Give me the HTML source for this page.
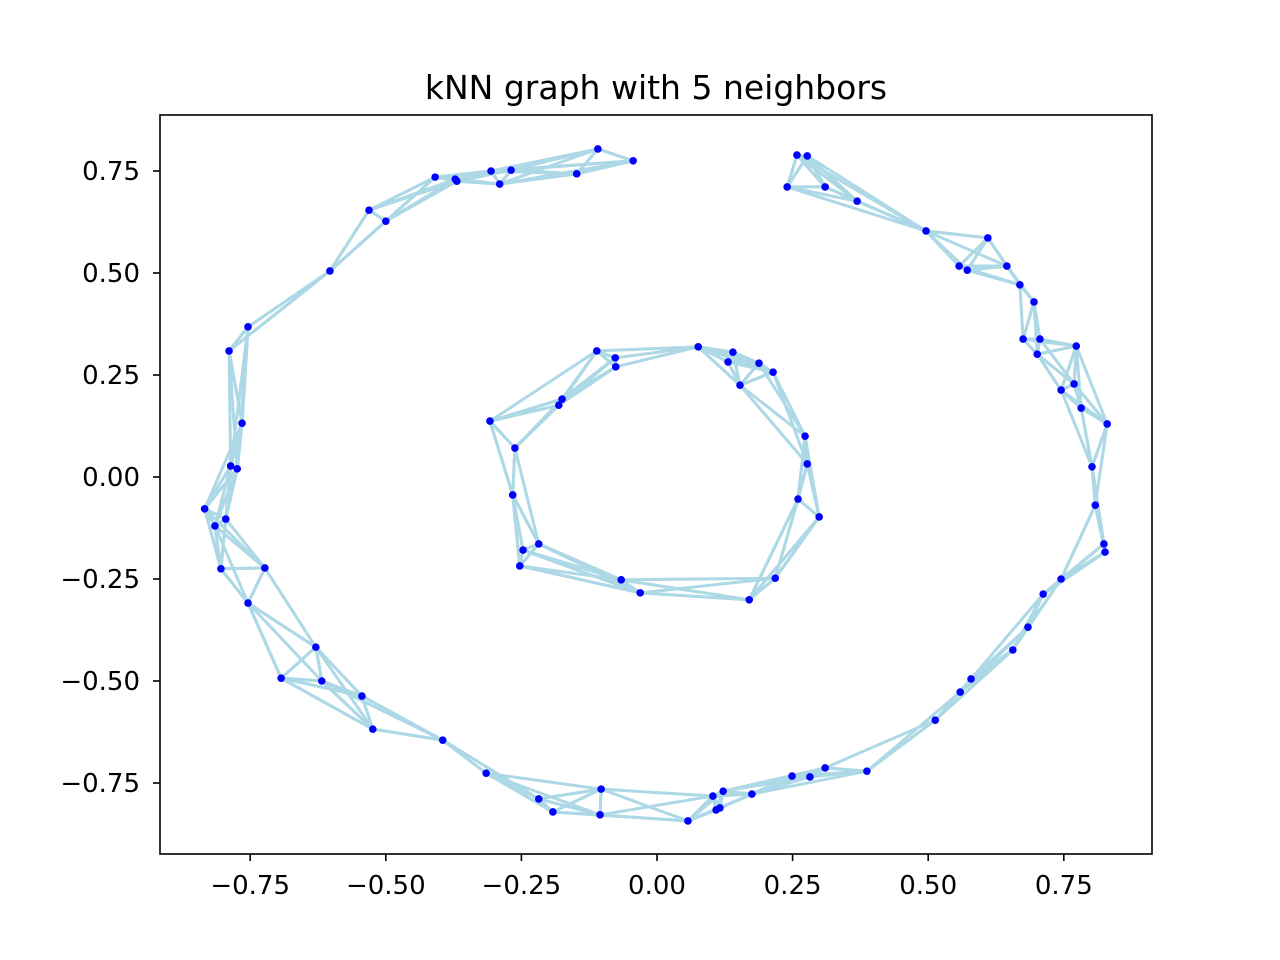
<!DOCTYPE html>
<html><head><meta charset="utf-8">
<style>
html,body{margin:0;padding:0;background:#fff;}
svg{display:block;font-family:"DejaVu Sans","Liberation Sans",sans-serif;}
</style></head>
<body>
<svg id="chart" width="1280" height="960" viewBox="0 0 1280 960" xmlns="http://www.w3.org/2000/svg">
<rect x="0" y="0" width="1280" height="960" fill="#fff"/>
<text x="656" y="99" text-anchor="middle" font-size="33" fill="#000">kNN graph with 5 neighbors</text>
<g id="edges"></g>
<g id="points"></g>
<g id="axes"></g>
</svg>
<script>
const K = 5;
const xTicks = [-0.75, -0.5, -0.25, 0, 0.25, 0.5, 0.75];
const yTicks = [-0.75, -0.5, -0.25, 0, 0.25, 0.5, 0.75];
const xTickLabels = ["\u22120.75","\u22120.50","\u22120.25","0.00","0.25","0.50","0.75"];
const yTickLabels = ["\u22120.75","\u22120.50","\u22120.25","0.00","0.25","0.50","0.75"];
const pointsX = [-0.109,-0.044,-0.148,-0.269,-0.306,-0.290,-0.372,-0.369,-0.409,-0.531,-0.500,-0.603,-0.754,-0.789,-0.765,-0.786,-0.774,-0.795,-0.834,-0.815,-0.804,-0.723,-0.754,-0.629,-0.693,-0.618,-0.544,-0.524,-0.395,-0.315,-0.218,-0.192,-0.103,-0.105,0.057,0.103,0.109,0.116,0.122,0.175,0.249,0.282,0.310,0.387,0.513,0.559,0.579,0.656,0.684,0.712,0.745,0.824,0.826,0.808,0.802,0.830,0.782,0.769,0.745,0.773,0.701,0.706,0.675,0.695,0.669,0.645,0.610,0.572,0.557,0.496,0.369,0.310,0.240,0.277,0.258,
-0.308,-0.262,-0.266,-0.247,-0.218,-0.253,-0.066,-0.031,0.170,0.218,0.260,0.299,0.277,0.273,0.214,0.153,0.188,0.140,0.131,0.076,-0.076,-0.077,-0.111,-0.175,-0.181];
const pointsY = [0.804,0.775,0.743,0.752,0.750,0.718,0.730,0.725,0.735,0.654,0.627,0.505,0.368,0.309,0.132,0.027,0.020,-0.103,-0.078,-0.120,-0.225,-0.223,-0.309,-0.417,-0.493,-0.500,-0.537,-0.618,-0.645,-0.726,-0.789,-0.821,-0.765,-0.828,-0.843,-0.782,-0.816,-0.811,-0.770,-0.777,-0.733,-0.735,-0.713,-0.721,-0.596,-0.527,-0.495,-0.424,-0.368,-0.287,-0.250,-0.164,-0.184,-0.069,0.025,0.130,0.169,0.228,0.213,0.321,0.301,0.338,0.338,0.429,0.471,0.517,0.586,0.507,0.517,0.603,0.676,0.711,0.711,0.787,0.789,
0.137,0.071,-0.044,-0.179,-0.164,-0.218,-0.252,-0.284,-0.301,-0.248,-0.054,-0.098,0.032,0.100,0.257,0.225,0.279,0.306,0.282,0.319,0.270,0.292,0.309,0.191,0.176];

const NS = "http://www.w3.org/2000/svg";
const L = 160, R = 1152, T = 115, B = 854;
function sx(v){ return 657 + v * 542.4; }
function sy(v){ return 477 - v * 408; }

const eg = document.getElementById('edges');
const n = pointsX.length;
for (let i = 0; i < n; i++) {
  const d = [];
  for (let j = 0; j < n; j++) if (j !== i) {
    const dx = pointsX[i]-pointsX[j], dy = pointsY[i]-pointsY[j];
    d.push([dx*dx+dy*dy, j]);
  }
  d.sort((a,b)=>a[0]-b[0]);
  for (let k = 0; k < K; k++) {
    const j = d[k][1];
    const ln = document.createElementNS(NS,'line');
    ln.setAttribute('x1', sx(pointsX[i])); ln.setAttribute('y1', sy(pointsY[i]));
    ln.setAttribute('x2', sx(pointsX[j])); ln.setAttribute('y2', sy(pointsY[j]));
    ln.setAttribute('stroke', '#add8e6'); ln.setAttribute('stroke-width', '3');
    
    
    eg.appendChild(ln);
  }
}
const pg = document.getElementById('points');
for (let i = 0; i < n; i++) {
  const c = document.createElementNS(NS,'circle');
  c.setAttribute('cx', sx(pointsX[i])); c.setAttribute('cy', sy(pointsY[i]));
  c.setAttribute('r', '3.8'); c.setAttribute('fill', '#0000ff');
  
  
  pg.appendChild(c);
}
const ag = document.getElementById('axes');
const frame = document.createElementNS(NS,'rect');
frame.setAttribute('x', L); frame.setAttribute('y', T);
frame.setAttribute('width', R-L); frame.setAttribute('height', B-T);
frame.setAttribute('fill', 'none'); frame.setAttribute('stroke', '#000'); frame.setAttribute('stroke-width', '1.6');


ag.appendChild(frame);
xTicks.forEach((v, i) => {
  const x = sx(v);
  const t = document.createElementNS(NS,'line');
  t.setAttribute('x1', x); t.setAttribute('x2', x); t.setAttribute('y1', B); t.setAttribute('y2', B+7);
  t.setAttribute('stroke', '#000'); t.setAttribute('stroke-width', '1.6');
  
  
  ag.appendChild(t);
  const tx = document.createElementNS(NS,'text');
  tx.setAttribute('x', x); tx.setAttribute('y', B+40);
  tx.setAttribute('text-anchor', 'middle'); tx.setAttribute('font-size', '26');
  tx.textContent = xTickLabels[i];
  
  
  ag.appendChild(tx);
});
yTicks.forEach((v, i) => {
  const y = sy(v);
  const t = document.createElementNS(NS,'line');
  t.setAttribute('x1', L-7); t.setAttribute('x2', L); t.setAttribute('y1', y); t.setAttribute('y2', y);
  t.setAttribute('stroke', '#000'); t.setAttribute('stroke-width', '1.6');
  
  
  ag.appendChild(t);
  const tx = document.createElementNS(NS,'text');
  tx.setAttribute('x', L-20); tx.setAttribute('y', y+9);
  tx.setAttribute('text-anchor', 'end'); tx.setAttribute('font-size', '26');
  tx.textContent = yTickLabels[i];
  
  
  ag.appendChild(tx);
});
</script>
</body></html>
